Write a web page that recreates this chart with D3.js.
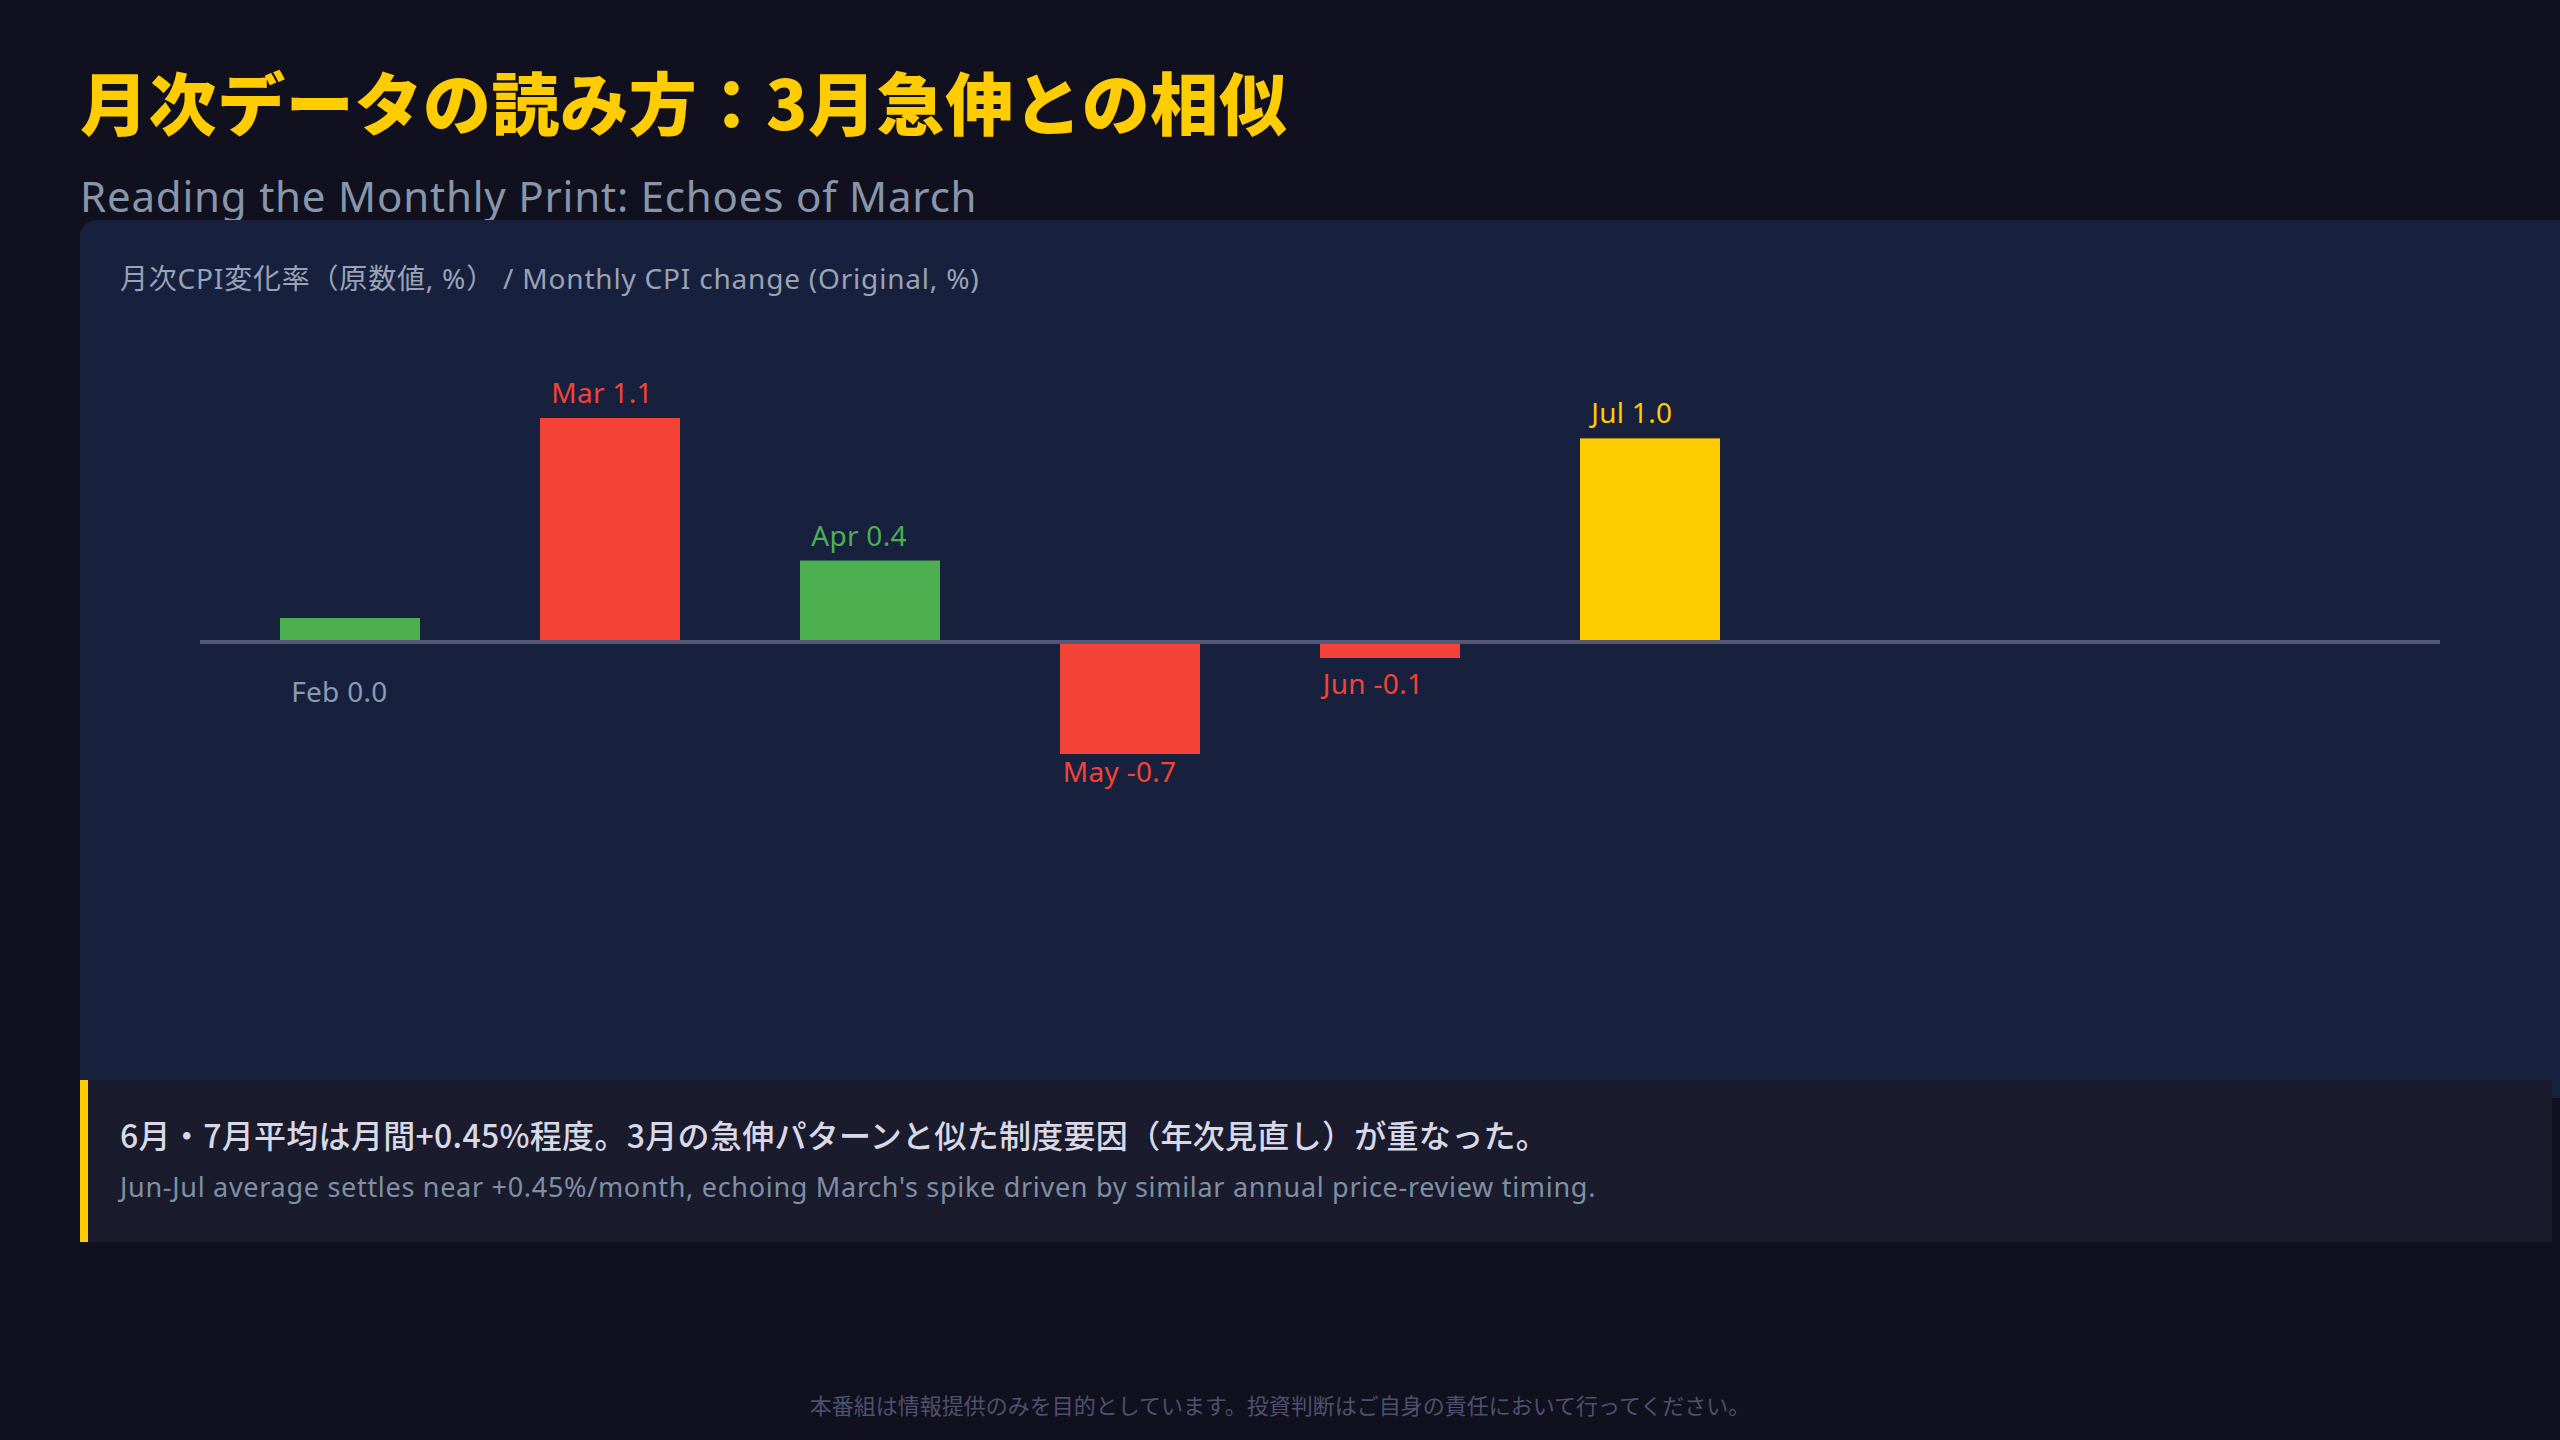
<!DOCTYPE html>
<html lang="ja">
<head>
<meta charset="utf-8">
<script src="https://cdn.jsdelivr.net/npm/d3@7"></script>
<style>
  body { margin: 0; background: #10101e; }
  svg { display: block; }
  text { font-family: "Noto Sans", "Noto Sans CJK JP", sans-serif; }
  text.ja { font-family: "Noto Sans CJK JP", sans-serif; }
</style>
</head>
<body>
<svg id="chart"></svg>
<script>
// data
const months = ["Feb", "Mar", "Apr", "May", "Jun", "Jul"];
const cpiChange = [0.0, 1.1, 0.4, -0.7, -0.1, 1.0];
const spikeMonth = "Mar";
const currentMonth = "Jul";

const titleJa = "月次データの読み方：3月急伸との相似";
const titleEn = "Reading the Monthly Print: Echoes of March";
const axisLabel = "月次CPI変化率（原数値, %） / Monthly CPI change (Original, %)";
const noteJa = "6月・7月平均は月間+0.45%程度。3月の急伸パターンと似た制度要因（年次見直し）が重なった。";
const noteEn = "Jun-Jul average settles near +0.45%/month, echoing March's spike driven by similar annual price-review timing.";
const disclaimer = "本番組は情報提供のみを目的としています。投資判断はご自身の責任において行ってください。";

const width = 2560, height = 1440;
const RED = "#f44336", GREEN = "#4caf50", YELLOW = "#ffcc00", GREY = "#8a9bb0";

const data = months.map((m, i) => ({ month: m, value: cpiChange[i] }));

const svg = d3.select("#chart")
    .attr("width", width)
    .attr("height", height);

svg.append("rect")
    .attr("width", width)
    .attr("height", height)
    .attr("fill", "#10101e");

// headings
svg.append("text")
    .attr("class", "ja")
    .attr("x", 80)
    .attr("y", 130)
    .attr("fill", YELLOW)
    .style("font-size", "68px")
    .style("font-weight", "900")
    .style("letter-spacing", "0.6px")
    .text(titleJa);

svg.append("text")
    .attr("x", 80)
    .attr("y", 212)
    .attr("fill", "#8896ab")
    .style("font-size", "42px")
    .style("letter-spacing", "0.8px")
    .text(titleEn);

// chart panel
svg.append("rect")
    .attr("x", 80)
    .attr("y", 220)
    .attr("width", 2500)
    .attr("height", 878)
    .attr("rx", 16)
    .attr("fill", "#17213e");

svg.append("text")
    .attr("x", 120)
    .attr("y", 289)
    .attr("fill", "#9aa3b5")
    .style("font-size", "28px")
    .style("letter-spacing", "0.8px")
    .text(axisLabel);

// scales
const x = d3.scaleBand()
    .domain(months)
    .range([220, 1780])
    .paddingInner(120 / 260)
    .paddingOuter(60 / 260);

// positive and negative sides use their own stretch
const y = d3.scaleLinear()
    .domain([d3.min(cpiChange), 0, d3.max(cpiChange)])
    .range([754, 642, 418]);

const y0 = y(0);
const minBar = 24;

const barColor = d => d.month === currentMonth ? YELLOW
    : d.month === spikeMonth ? RED
    : d.value < 0 ? RED : GREEN;
const labelColor = d => d.value === 0 ? GREY : barColor(d);

// bars
svg.append("g")
    .selectAll("rect")
    .data(data)
    .enter()
    .append("rect")
    .attr("x", d => x(d.month))
    .attr("width", x.bandwidth())
    .attr("y", d => d.value >= 0 ? (d.value === 0 ? y0 - minBar : y(d.value)) : y0)
    .attr("height", d => d.value === 0 ? minBar : Math.abs(y(d.value) - y0))
    .attr("fill", barColor);

// zero line
svg.append("line")
    .attr("x1", 200)
    .attr("x2", 2440)
    .attr("y1", y0)
    .attr("y2", y0)
    .attr("stroke", "#565879")
    .attr("stroke-width", 4);

// value labels
const labelSize = 28;
svg.append("g")
    .selectAll("text")
    .data(data)
    .enter()
    .append("text")
    .attr("x", d => {
        const txt = `${d.month} ${d.value.toFixed(1)}`;
        return x(d.month) + x.bandwidth() / 2 - txt.length * labelSize * 0.3;
    })
    .attr("y", d => d.value > 0 ? y(d.value) - 15
        : d.value < 0 ? Math.max(y(d.value) + 28, y0 + 52)
        : y0 + 60)
    .attr("fill", labelColor)
    .style("font-size", labelSize + "px")
    .style("letter-spacing", "0.3px")
    .text(d => `${d.month} ${d.value.toFixed(1)}`);

// note box
svg.append("rect")
    .attr("x", 80)
    .attr("y", 1080)
    .attr("width", 2472)
    .attr("height", 162)
    .attr("fill", "#1b1b2e");

svg.append("rect")
    .attr("x", 80)
    .attr("y", 1080)
    .attr("width", 8)
    .attr("height", 162)
    .attr("fill", YELLOW);

svg.append("text")
    .attr("class", "ja")
    .attr("x", 120)
    .attr("y", 1148)
    .attr("fill", "#d8d8e6")
    .style("font-size", "32px")
    .style("font-weight", "500")
    .style("letter-spacing", "0.3px")
    .text(noteJa);

svg.append("text")
    .attr("x", 120)
    .attr("y", 1197)
    .attr("fill", "#7f90a4")
    .style("font-size", "27px")
    .style("letter-spacing", "0.7px")
    .text(noteEn);

// footer
svg.append("text")
    .attr("class", "ja")
    .attr("x", width / 2)
    .attr("y", 1414)
    .attr("text-anchor", "middle")
    .attr("fill", "#4f5070")
    .style("font-size", "22px")
    .text(disclaimer);
</script>
</body>
</html>
